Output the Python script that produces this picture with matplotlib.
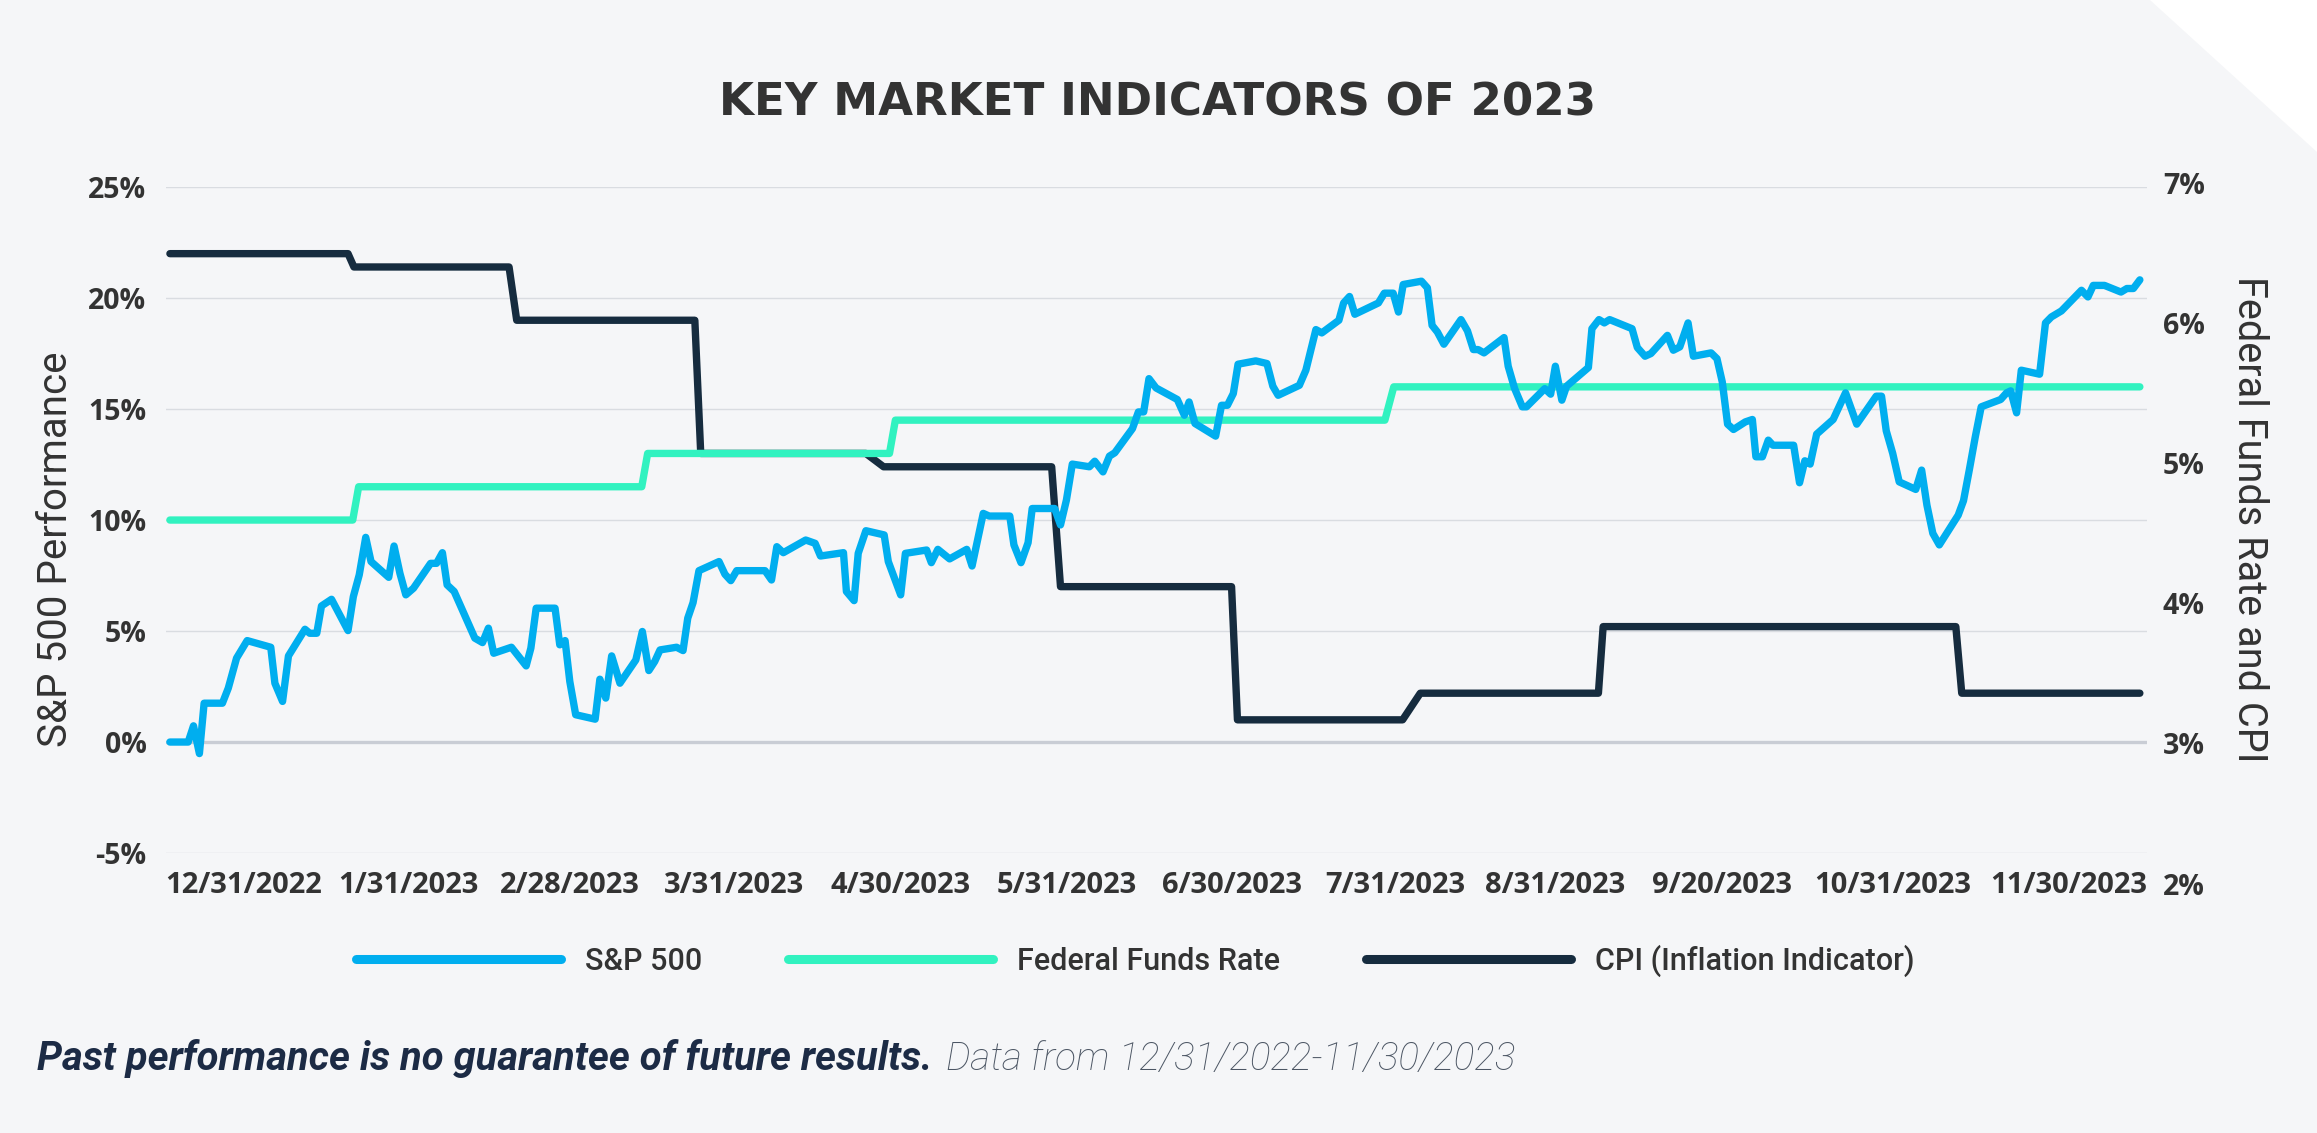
import matplotlib
matplotlib.use("Agg")
import matplotlib.pyplot as plt
from matplotlib.patches import Polygon
from matplotlib.lines import Line2D
from matplotlib.transforms import blended_transform_factory

# S&P 500 performance (%), x = days after 12/31/2022
sp_days = [0.0, 3.1, 4.0, 5.0, 5.8, 8.9, 9.9, 11.3, 13.1, 17.1, 17.8, 19.1, 20.1, 22.9, 23.7, 24.9,
           25.7, 27.4, 30.2, 31.1, 32.1, 33.2, 34.1, 37.1, 38.0, 39.0, 40.0, 41.3, 44.2, 45.2, 46.2,
           47.0, 48.2, 51.7, 53.0, 54.0, 54.9, 57.9, 60.4, 61.2, 62.1, 65.3, 66.1, 67.0, 67.8, 68.8,
           72.1, 72.9, 73.9, 74.9, 76.3, 79.0, 80.1, 81.2, 82.2, 83.1, 85.9, 87.0, 87.8, 88.7, 89.7,
           93.1, 94.1, 95.1, 96.1, 100.9, 102.0, 102.9, 104.0, 107.8, 109.4, 110.3, 114.2, 114.7,
           116.0, 116.7, 118.0, 121.1, 121.8, 123.9, 124.7, 128.3, 129.1, 130.2, 132.2, 135.1, 136.0,
           137.9, 138.9, 142.4, 143.1, 144.3, 145.5, 146.2, 150.0, 151.0, 152.0, 153.0, 155.9, 156.8,
           158.2, 159.3, 160.2, 163.2, 164.2, 165.1, 166.0, 167.2, 170.8, 172.0, 172.8, 173.8, 177.3,
           178.3, 179.3, 180.3, 181.1, 184.1, 186.0, 187.0, 187.9, 191.5, 192.6, 194.3, 195.3, 198.2,
           199.0, 200.0, 200.9, 204.9, 205.9, 207.4, 208.3, 209.1, 212.2, 213.2, 214.0, 214.9, 216.0,
           218.9, 220.0, 221.0, 221.8, 222.8, 226.2, 226.9, 228.0, 229.3, 230.0, 233.1, 234.1, 234.9,
           236.0, 236.8, 240.5, 241.1, 242.3, 243.2, 244.1, 247.9, 248.8, 250.1, 251.1, 253.9, 254.9,
           256.0, 257.4, 258.3, 261.3, 262.3, 263.2, 264.1, 265.1, 267.1, 268.3, 268.9, 270.0, 271.0,
           271.8, 275.3, 276.3, 277.2, 278.1, 279.2, 282.0, 284.1, 286.0, 289.3, 290.2, 291.0, 292.1,
           293.2, 296.0, 297.0, 297.9, 298.9, 300.0, 303.2, 304.1, 305.1, 306.1, 307.1, 310.4, 311.4,
           312.1, 313.1, 313.9, 317.0, 318.0, 319.0, 320.7, 324.1, 325.2, 326.1, 328.0, 330.8, 331.8,
           332.9, 334.0]
sp_vals = [0.0, 0.0, 0.73, -0.52, 1.75, 1.75, 2.43, 3.78, 4.57, 4.27, 2.65, 1.83, 3.88, 5.08, 4.90, 4.90,
           6.13, 6.43, 5.02, 6.55, 7.53, 9.22, 8.13, 7.42, 8.83, 7.60, 6.63, 6.93, 8.05, 8.05, 8.53,
           7.08, 6.78, 4.68, 4.48, 5.13, 4.00, 4.27, 3.43, 4.23, 6.03, 6.03, 4.38, 4.57, 2.73, 1.23,
           1.03, 2.83, 1.98, 3.88, 2.65, 3.70, 4.98, 3.22, 3.63, 4.15, 4.27, 4.12, 5.58, 6.28, 7.72,
           8.13, 7.56, 7.27, 7.72, 7.72, 7.30, 8.80, 8.53, 9.10, 8.95, 8.38, 8.53, 6.78,
           6.37, 8.50, 9.52, 9.33, 8.13, 6.63, 8.50, 8.65, 8.08, 8.68, 8.25, 8.68, 7.93,
           10.30, 10.18, 10.18, 8.88, 8.08, 8.98, 10.52, 10.52, 9.78, 10.90, 12.52, 12.40, 12.65,
           12.17, 12.88, 13.03, 14.12, 14.87, 14.87, 16.37, 15.95, 15.43, 14.72, 15.32, 14.35, 13.78,
           15.17, 15.17, 15.70, 17.02, 17.17, 17.05, 16.03, 15.62, 16.07, 16.75, 18.58, 18.43, 19.00,
           19.78, 20.07, 19.27, 19.78, 20.22, 20.22, 19.37, 20.61, 20.76, 20.46, 18.77, 18.47, 17.92,
           19.03, 18.52, 17.68, 17.68, 17.53, 18.22, 16.93, 15.92, 15.10, 15.10, 15.92, 15.67, 16.93,
           15.40, 16.03, 16.87, 18.62, 19.03, 18.88, 19.03, 18.62, 17.77, 17.38, 17.50, 18.32, 17.65,
           17.80, 18.88, 17.38, 17.53, 17.27, 16.22, 14.32, 14.08, 14.42, 14.53, 12.85, 12.85, 13.60,
           13.37, 13.37, 11.68, 12.67, 12.52, 13.87, 14.53, 15.73, 14.32, 15.58, 15.58, 14.02, 13.00,
           11.72, 11.38, 12.25, 10.67, 9.40, 8.88, 10.22, 10.87, 12.28, 13.75, 15.10, 15.43, 15.73,
           15.82, 14.83, 16.75, 16.57, 18.88, 19.15, 19.42, 20.35, 20.05, 20.57, 20.57, 20.27, 20.43,
           20.43, 20.82]

# Federal funds rate (%)
fed_days = [0, 31, 32, 80, 81, 122, 123, 206, 207.5, 334]
fed_vals = [4.5, 4.5, 4.75, 4.75, 5.0, 5.0, 5.25, 5.25, 5.5, 5.5]

# CPI year over year (%)
cpi_days = [0, 30.2, 31.2, 57.5, 58.8, 89, 90, 118, 121, 149.5, 151, 180, 181, 209, 212,
            242.2, 243, 302.8, 303.8, 334]
cpi_vals = [6.5, 6.5, 6.4, 6.4, 6.0, 6.0, 5.0, 5.0, 4.9, 4.9, 4.0, 4.0, 3.0, 3.0, 3.2,
            3.2, 3.7, 3.7, 3.2, 3.2]

sp_ticks = [-5, 0, 5, 10, 15, 20, 25]
rate_labels = ["7%", "6%", "5%", "4%", "3%", "2%"]
x_labels = ["12/31/2022", "1/31/2023", "2/28/2023", "3/31/2023", "4/30/2023", "5/31/2023",
            "6/30/2023", "7/31/2023", "8/31/2023", "9/20/2023", "10/31/2023", "11/30/2023"]

BG = "#F5F6F8"
BLUE = "#00AEEF"
GREEN = "#31F2C0"
NAVY = "#162C3F"
TXT = "#333333"
TICKFONT = "Open Sans"

fig = plt.figure(figsize=(23.17, 11.33), dpi=100, facecolor=BG)
# white corner cut top right
fig.patches.append(Polygon([(0.9279, 1.0), (1.0, 1.0), (1.0, 0.8658)], closed=True,
                           transform=fig.transFigure, facecolor="white", edgecolor="none"))

ax = fig.add_axes([0.0716, 0.2471, 0.855, 0.5878])
ax2 = ax.twinx()
ax.set_zorder(ax2.get_zorder() + 1)
ax.patch.set_visible(False)
ax2.patch.set_visible(False)

xlim = (-0.68, 335.2)
ax.set_xlim(*xlim)
ax.set_ylim(-5, 25)
ax2.set_ylim(2, 7)

# gridlines live on the lower axes so the rate lines sit above them
trans = blended_transform_factory(ax2.transAxes, ax.transData)
for v in sp_ticks:
    if v == 0:
        ax2.plot([0, 1], [v, v], transform=trans, color="#C9CDD5", lw=2.4, zorder=0)
    else:
        ax2.plot([0, 1], [v, v], transform=trans, color="#D9DCE1", lw=1.0, zorder=0)

LW = 5.3
ax2.plot(cpi_days, cpi_vals, color=NAVY, lw=LW, solid_capstyle="round", zorder=2)
ax2.plot(fed_days, fed_vals, color=GREEN, lw=LW, solid_capstyle="round", zorder=3)
ax.plot(sp_days, sp_vals, color=BLUE, lw=LW, solid_capstyle="round", zorder=4)

for a in (ax, ax2):
    for s in a.spines.values():
        s.set_visible(False)
    a.tick_params(length=0)

ax.set_yticks(sp_ticks)
ax.set_yticklabels([f"{v}%" for v in sp_ticks], fontsize=20.5, fontweight="bold",
                   color=TXT, family=TICKFONT)
ax.tick_params(axis="y", pad=14)

# x labels are spread evenly across the width, as in the original
x_frac = [0.0394, 0.1222, 0.2039, 0.2867, 0.3710, 0.4548, 0.5381, 0.6204, 0.7012, 0.7855,
          0.8718, 0.9606]
ax.set_xticks([xlim[0] + f * (xlim[1] - xlim[0]) for f in x_frac])
ax.set_xticklabels(x_labels, fontsize=21, fontweight="bold", color=TXT, family=TICKFONT)
ax.tick_params(axis="x", pad=13)

ax2.set_yticks([])
rtrans = blended_transform_factory(ax2.transAxes, ax2.transAxes)
for i, lab in enumerate(rate_labels):
    ax2.text(1.0081, 1.0015 - i * 0.2105, lab, transform=rtrans, ha="left", va="center",
             fontsize=20.5, fontweight="bold", color=TXT, family=TICKFONT, clip_on=False)

fig.text(0.024, 1 - 549 / 1133, "S&P 500 Performance", rotation=90, ha="center", va="center",
         fontsize=29, color=TXT, family="Roboto")
fig.text(0.9707, 1 - 519 / 1133, "Federal Funds Rate and CPI", rotation=270, ha="center",
         va="center", fontsize=28.5, color=TXT, family="Roboto")

fig.text(0.4998, 1 - 115 / 1133, "KEY MARKET INDICATORS OF 2023", ha="center", va="baseline",
         fontsize=32.5, fontweight="bold", color=TXT, family="DejaVu Sans")

handles = [Line2D([], [], color=BLUE, lw=6.5, solid_capstyle="round"),
           Line2D([], [], color=GREEN, lw=6.5, solid_capstyle="round"),
           Line2D([], [], color=NAVY, lw=6.5, solid_capstyle="round")]
fig.legend(handles, ["S&P 500", "Federal Funds Rate", "CPI (Inflation Indicator)"],
           loc="center", bbox_to_anchor=(0.490, 0.152), ncol=3, frameon=False,
           handlelength=6.7, handletextpad=0.8, columnspacing=2.8,
           prop={"family": "Roboto", "size": 22, "weight": "medium"}, labelcolor=TXT)

t1 = fig.text(0.016, 1 - 1070 / 1133, "Past performance is no guarantee of future results.",
              ha="left", va="baseline", fontsize=28.8, fontweight="bold", style="italic",
              color="#1C2B45", family="Roboto")
ax.annotate("Data from 12/31/2022-11/30/2023", xy=(1, 0), xycoords=t1, xytext=(10, 0),
            textcoords="offset points", ha="left", va="bottom", fontsize=27.8,
            fontweight="light", style="italic", color="#4C5664", family="Roboto",
            annotation_clip=False)

fig.savefig("out.png", dpi=100, facecolor=BG)
